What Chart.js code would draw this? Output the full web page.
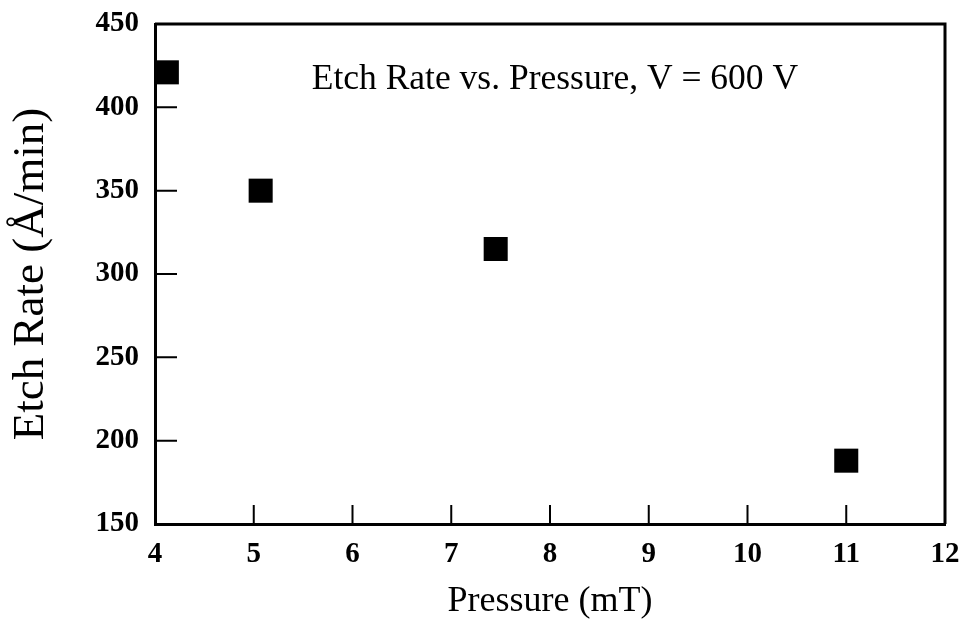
<!DOCTYPE html>
<html>
<head>
<meta charset="utf-8">
<script src="https://cdn.jsdelivr.net/npm/chart.js@4"></script>
<style>
  html, body { margin: 0; padding: 0; background: #fff; }
</style>
</head>
<body>
<canvas id="myChart" width="962" height="625"></canvas>
<script>
// data
var pressure = [4.12, 5.07, 7.45, 11.0];
var etchRate = [421, 350, 315, 188];
var xTicks = [4, 5, 6, 7, 8, 9, 10, 11, 12];
var yTicks = [150, 200, 250, 300, 350, 400, 450];
var chartTitle = "Etch Rate vs. Pressure, V = 600 V";

var serif = "'Liberation Serif', 'Times New Roman', serif";

// frame on top/right, inward ticks and the title inside the plot
var framePlugin = {
  id: "frame",
  afterDraw: function(chart) {
    var ctx = chart.ctx;
    var a = chart.chartArea;
    var xs = chart.scales.x, ys = chart.scales.y;
    ctx.save();
    ctx.strokeStyle = "#000";
    ctx.lineWidth = 3;
    ctx.beginPath();
    ctx.moveTo(a.left, a.top);
    ctx.lineTo(a.right, a.top);
    ctx.lineTo(a.right, a.bottom);
    ctx.stroke();
    ctx.lineWidth = 2;
    ctx.beginPath();
    xTicks.forEach(function(v) {
      if (v === 4 || v === 12) return;
      var px = xs.getPixelForValue(v);
      ctx.moveTo(px, a.bottom);
      ctx.lineTo(px, a.bottom - 19);
    });
    yTicks.forEach(function(v) {
      if (v === 150 || v === 450) return;
      var py = ys.getPixelForValue(v);
      ctx.moveTo(a.left, py);
      ctx.lineTo(a.left + 22, py);
    });
    ctx.stroke();
    ctx.fillStyle = "#000";
    ctx.font = "35.5px " + serif;
    ctx.textAlign = "center";
    ctx.textBaseline = "alphabetic";
    ctx.fillText(chartTitle, xs.getPixelForValue(8.05), ys.getPixelForValue(411));
    ctx.restore();
  }
};

new Chart("myChart", {
  type: "scatter",
  data: {
    datasets: [{
      data: pressure.map(function(p, i) { return { x: p, y: etchRate[i] }; }),
      pointStyle: "rect",
      pointRadius: 17,
      pointHoverRadius: 17,
      backgroundColor: "#000",
      borderColor: "#000",
      borderWidth: 0
    }]
  },
  plugins: [framePlugin],
  options: {
    responsive: false,
    animation: false,
    devicePixelRatio: 1,
    layout: { padding: { top: 24, right: 17, left: 0, bottom: 0 } },
    plugins: {
      legend: { display: false },
      tooltip: { enabled: false },
      title: { display: false }
    },
    scales: {
      x: {
        type: "linear",
        min: 4, max: 12,
        afterBuildTicks: function(s) { s.ticks = xTicks.map(function(v) { return { value: v }; }); },
        afterFit: function(s) { s.height = 101; s.paddingLeft = 0; s.paddingRight = 0; },
        grid: { display: false, drawTicks: false },
        border: { display: true, color: "#000", width: 3 },
        ticks: { color: "#000", padding: 13, font: { family: serif, size: 29, weight: "bold" }, maxRotation: 0 },
        title: { display: true, text: "Pressure (mT)", color: "#000", padding: { top: 0, bottom: 2 }, font: { family: serif, size: 36 } }
      },
      y: {
        type: "linear",
        min: 150, max: 450,
        afterBuildTicks: function(s) { s.ticks = yTicks.map(function(v) { return { value: v }; }); },
        afterFit: function(s) { s.width = 155; s.paddingTop = 0; s.paddingBottom = 0; },
        grid: { display: false, drawTicks: false },
        border: { display: true, color: "#000", width: 3 },
        ticks: { color: "#000", padding: 16, font: { family: serif, size: 29, weight: "bold" } },
        title: { display: true, text: "Etch Rate (Å/min)", color: "#000", padding: { top: 4, bottom: 0 }, font: { family: serif, size: 45 } }
      }
    }
  }
});
</script>
</body>
</html>
